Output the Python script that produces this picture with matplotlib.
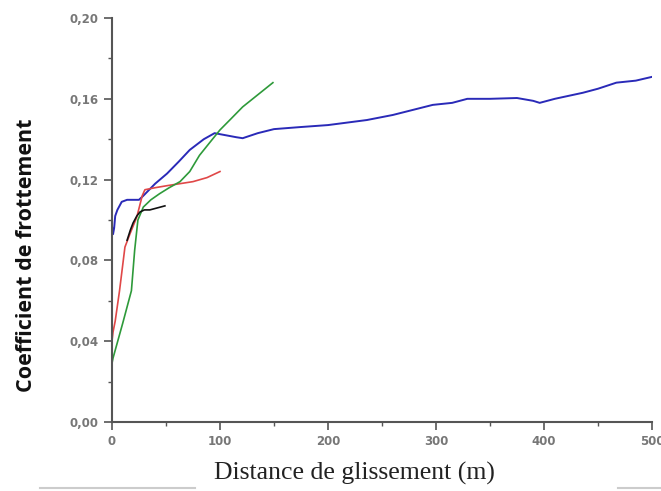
import matplotlib
matplotlib.use("Agg")
import matplotlib.pyplot as plt
from matplotlib.ticker import MultipleLocator, FuncFormatter
from matplotlib.lines import Line2D

# Data
blue_x = [0, 1, 2, 3, 5, 9, 14, 19, 25, 29, 40, 51, 62, 72, 85, 95, 105, 115, 121, 135, 150, 174, 200, 236, 260, 297, 315, 329, 350, 375, 390, 396, 410, 436, 450, 467, 485, 501]
blue_y = [0.097, 0.093, 0.096, 0.102, 0.105, 0.109, 0.110, 0.110, 0.110, 0.112, 0.118, 0.123, 0.129, 0.1347, 0.140, 0.143, 0.142, 0.141, 0.1405, 0.143, 0.145, 0.146, 0.147, 0.1495, 0.152, 0.157, 0.158, 0.160, 0.160, 0.1604, 0.159, 0.158, 0.160, 0.163, 0.165, 0.168, 0.169, 0.171]

red_x = [0, 1, 3, 7, 12, 17, 23, 28, 30.5, 40, 51, 63, 75, 88, 100]
red_y = [0.040, 0.0446, 0.050, 0.065, 0.0866, 0.0936, 0.1015, 0.112, 0.115, 0.116, 0.117, 0.118, 0.119, 0.121, 0.124]

green_x = [0, 1, 10, 18, 21, 24, 29, 36, 44, 53, 63, 72, 81, 90, 100, 110, 121, 135, 149]
green_y = [0.029, 0.0317, 0.049, 0.065, 0.085, 0.100, 0.1064, 0.110, 0.113, 0.116, 0.119, 0.124, 0.132, 0.138, 0.1446, 0.150, 0.156, 0.162, 0.168]

black_x = [14, 17, 19.5, 23, 26, 30, 35, 42, 49]
black_y = [0.090, 0.095, 0.0985, 0.102, 0.104, 0.105, 0.105, 0.106, 0.107]

x_ticks = [0, 100, 200, 300, 400, 500]
y_ticks = [0.00, 0.04, 0.08, 0.12, 0.16, 0.20]

fig = plt.figure(figsize=(6.61, 4.91), dpi=100)
ax = fig.add_axes([0.1694, 0.1405, 0.817, 0.8228])

ax.plot(blue_x, blue_y, color='#2a2ab8', lw=1.4)
ax.plot(red_x, red_y, color='#e04848', lw=1.2)
ax.plot(green_x, green_y, color='#2e9a3a', lw=1.2)
ax.plot(black_x, black_y, color='#111111', lw=1.2)

ax.set_xlim(0, 500)
ax.set_ylim(0, 0.20)
ax.set_xticks(x_ticks)
ax.set_yticks(y_ticks)
ax.xaxis.set_minor_locator(MultipleLocator(50))
ax.yaxis.set_minor_locator(MultipleLocator(0.02))
ax.yaxis.set_major_formatter(FuncFormatter(lambda v, p: f"{v:.2f}".replace('.', ',')))
ax.xaxis.set_major_formatter(FuncFormatter(lambda v, p: f"{int(v)}"))

for s in ['top', 'right']:
    ax.spines[s].set_visible(False)
for s in ['left', 'bottom']:
    ax.spines[s].set_color('#555555')
    ax.spines[s].set_linewidth(1.5)

ax.tick_params(which='major', direction='out', length=6, width=1.2, color='#555555',
               labelsize=8.5, labelcolor='#777777', pad=3.5)
ax.tick_params(which='minor', direction='out', length=3, width=1.0, color='#555555')
for lab in ax.get_xticklabels() + ax.get_yticklabels():
    lab.set_fontweight('bold')

fig.text(27/661, 1-255/491, 'Coefficient de frottement', rotation=90, fontsize=15.5,
         fontweight='bold', family='Open Sans', ha='center', va='center', color='#111111')
fig.text(354/661, 1-473/491, 'Distance de glissement (m)', fontsize=18.5,
         family='Liberation Serif', ha='center', va='center', color='#222222')

fig.add_artist(Line2D([40/661, 195/661], [1-488/491]*2, color='#cccccc', lw=1.5))
fig.add_artist(Line2D([618/661, 661/661], [1-488/491]*2, color='#cccccc', lw=1.5))

fig.savefig('out.png', dpi=100)
